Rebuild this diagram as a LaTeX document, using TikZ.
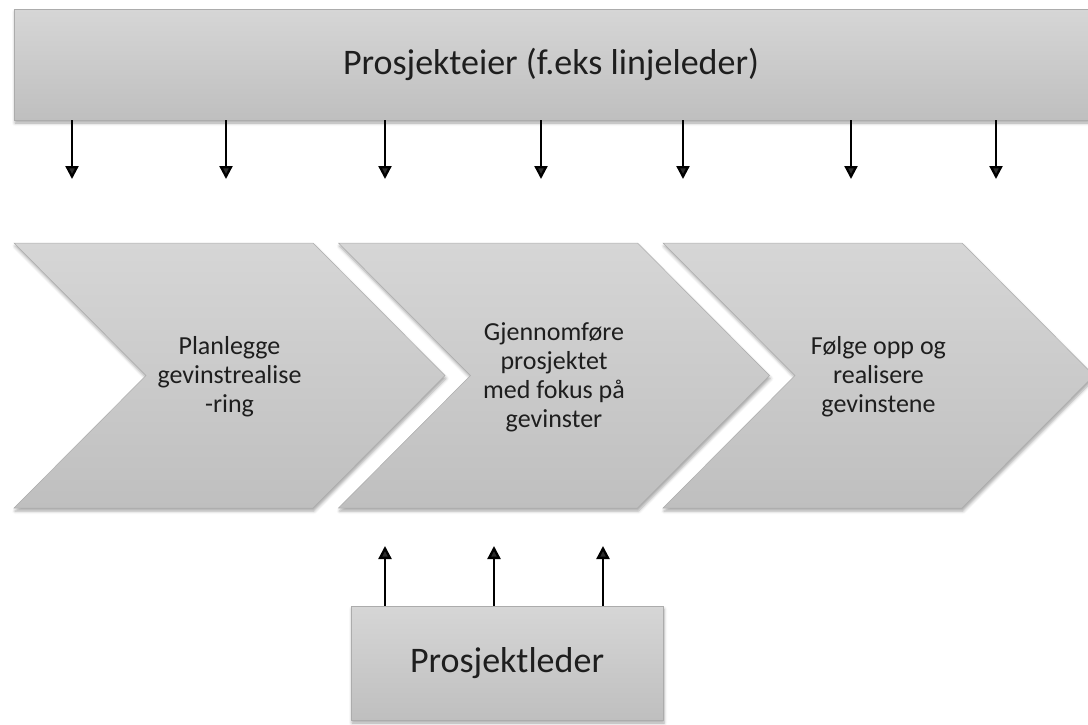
\documentclass[tikz,border=0pt]{standalone}
\usepackage{fontspec}
\setmainfont{Carlito}
\usetikzlibrary{arrows.meta,shadows.blur}

\definecolor{boxtop}{RGB}{214,214,214}
\definecolor{boxbot}{RGB}{191,191,191}
\definecolor{boxline}{RGB}{172,172,172}
\definecolor{txt}{RGB}{30,30,30}

\begin{document}
\begin{tikzpicture}[x=1pt, y=-1pt,
  box/.style={rectangle, draw=boxline, line width=0.5pt, top color=boxtop, bottom color=boxbot,
    blur shadow={shadow xshift=1pt, shadow yshift=-3pt, shadow blur radius=3pt, shadow opacity=35},
    text=txt, font=\fontsize{36}{43}\selectfont},
  chev/.style={draw=boxline, line width=0.5pt, top color=boxtop, bottom color=boxbot,
    blur shadow={shadow xshift=1pt, shadow yshift=-3pt, shadow blur radius=3pt, shadow opacity=35}},
  steptext/.style={align=center, text=txt, font=\fontsize{26}{29}\selectfont},
  arr/.style={-{Triangle[width=13pt,length=13pt]}, line width=2.3pt}]

  \useasboundingbox (0,0) rectangle (1088,724);

  % owner and project manager
  \node[box, minimum width=1074pt, minimum height=111pt] (owner) at (551,64.5) {Prosjekteier (f.eks linjeleder)};
  \node[box, minimum width=312pt, minimum height=114pt] (lead) at (507,663) {Prosjektleder};

  % process steps
  \foreach \x/\nm/\txt in {14/plan/{Planlegge\\gevinstrealise\\-ring},
      338.5/exec/{Gjennomføre\\prosjektet\\med fokus på\\gevinster},
      663/follow/{Følge opp og\\realisere\\gevinstene}} {
    \path[chev] (\x,243) -- ++(299,0) -- ++(132,132.5) -- ++(-132,132.5) -- ++(-299,0) -- ++(132,-132.5) -- cycle;
    \node[steptext] (\nm) at (\x+215.5,377) {\txt};
  }

  % arrows
  \foreach \x in {72,226,385,541,683,851,996} {
    \coordinate (d\x) at (\x,179);
    \draw[arr] (owner.south -| d\x) -- (d\x);
  }
  \foreach \x in {385,494,603} {
    \coordinate (u\x) at (\x,546);
    \draw[arr] (lead.north -| u\x) -- (u\x);
  }

\end{tikzpicture}
\end{document}
